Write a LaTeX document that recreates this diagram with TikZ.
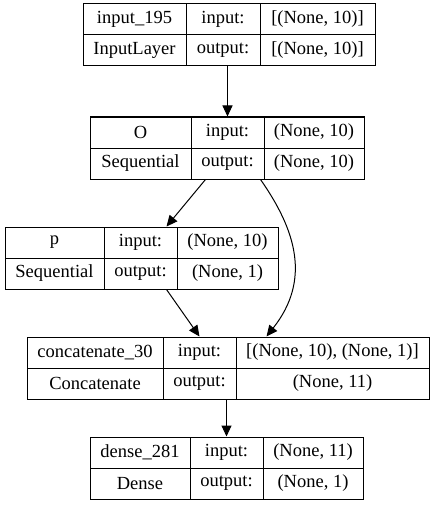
\documentclass[tikz,border=0pt]{standalone}
\usepackage{fontspec}
\setmainfont{Liberation Serif}
\usetikzlibrary{arrows.meta,calc}

\begin{document}
\begin{tikzpicture}[x=1pt,y=-1pt,
  cell/.style={draw,line width=1pt,inner sep=0pt,minimum height=31pt,
    font=\fontsize{18.5}{21}\selectfont},
  conn/.style={line width=1pt,-{Triangle[length=11pt,width=10pt]}}]
\useasboundingbox (0,0) rectangle (435,516);
\foreach \id/\xa/\xb/\xc/\xd/\yt/\na/\nb/\va/\vb in {
  inp/83/186/260/375/4/input\_195/InputLayer/{[(None, 10)]}/{[(None, 10)]},
  O/90/191/264/364/117/O/Sequential/{(None, 10)}/{(None, 10)},
  p/5/104/177/278/227/p/Sequential/{(None, 10)}/{(None, 1)},
  cat/27/163/236/429/337/concatenate\_30/Concatenate/{[(None, 10), (None, 1)]}/{(None, 11)},
  dense/90/190/263/363/437/dense\_281/Dense/{(None, 11)}/{(None, 1)}}
{
  \node[cell,minimum width={(\xb-\xa)*1pt}] (\id-n) at ({(\xa+\xb)/2},{\yt+15.5}) {\na};
  \node[cell,minimum width={(\xc-\xb)*1pt}] (\id-i) at ({(\xb+\xc)/2},{\yt+15.5}) {input:};
  \node[cell,minimum width={(\xd-\xc)*1pt}] (\id-iv) at ({(\xc+\xd)/2},{\yt+15.5}) {\va};
  \node[cell,minimum width={(\xb-\xa)*1pt}] (\id-t) at ({(\xa+\xb)/2},{\yt+46.5}) {\nb};
  \node[cell,minimum width={(\xc-\xb)*1pt}] (\id-o) at ({(\xb+\xc)/2},{\yt+46.5}) {output:};
  \node[cell,minimum width={(\xd-\xc)*1pt}] (\id-ov) at ({(\xc+\xd)/2},{\yt+46.5}) {\vb};
}
\draw[conn] (inp-o.south -| O-i.north) -- (O-i.north);
\draw[conn] ([xshift=-22pt]O-o.south) -- ([xshift=26pt]p-i.north);
\draw[conn] ([xshift=-4pt]O-o.south east) .. controls +(35,50) and +(45,-57) .. ([xshift=31pt]cat-iv.north west);
\draw[conn] ([xshift=-11pt]p-o.south east) -- (cat-i.north);
\draw[conn] (cat-o.south -| dense-i.north) -- (dense-i.north);
\end{tikzpicture}
\end{document}
